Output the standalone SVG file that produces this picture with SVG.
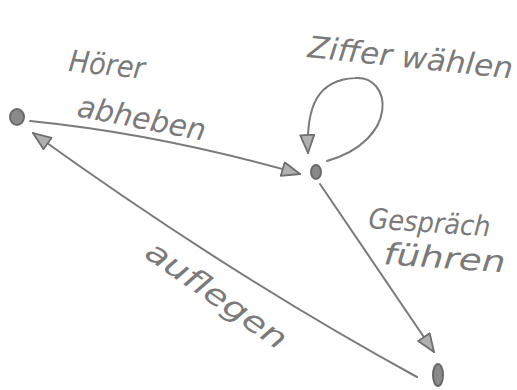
<svg xmlns="http://www.w3.org/2000/svg" width="517" height="390" viewBox="0 0 517 390">
<style>
.e{fill:none;stroke:#7a7a7a;stroke-width:2;stroke-linecap:round}
.n{fill:#8a8a8a;stroke:#6a6a6a;stroke-width:2}
.t{font-family:"DejaVu Sans",sans-serif;font-style:italic;fill:#7a7a7a;font-size:30px}
</style>
<defs>
<marker id="ah" viewBox="0 0 20 16" refX="19" refY="8" markerWidth="20" markerHeight="16" markerUnits="userSpaceOnUse" orient="auto">
<path d="M1,1 L19,8 L1,15 Z" fill="#b0b0b0" stroke="#6e6e6e" stroke-width="1.8" stroke-linejoin="round"/>
</marker>
</defs>
<rect width="517" height="390" fill="#fff"/>
<g id="connectors">
<path class="e" d="M30,121 Q160,134 300,174" marker-end="url(#ah)"/>
<path class="e" d="M327,161 C400,140 392,75 355,78 C318,80 306,105 308,153" marker-end="url(#ah)"/>
<path class="e" d="M320,184 L434,352" marker-end="url(#ah)"/>
<path class="e" d="M417,377 Q230,275 33,133" marker-end="url(#ah)"/>
</g>
<g id="n1"><ellipse class="n" cx="17" cy="117" rx="7" ry="8"/></g>
<g id="n2"><ellipse class="n" cx="316" cy="172" rx="5" ry="7"/></g>
<g id="n3"><ellipse class="n" cx="438" cy="375" rx="5" ry="11"/></g>
<g id="labels">
<text class="t" x="68" y="71" textLength="76" lengthAdjust="spacingAndGlyphs" transform="rotate(6 68 71)">Hörer</text>
<text class="t" x="76" y="116" textLength="130" lengthAdjust="spacingAndGlyphs" transform="rotate(11 76 116)">abheben</text>
<text class="t" x="307" y="57" textLength="206" lengthAdjust="spacingAndGlyphs" transform="rotate(6 307 57)">Ziffer wählen</text>
<text class="t" x="368" y="228" textLength="122" lengthAdjust="spacingAndGlyphs" transform="rotate(4 368 228)" style="font-size:28px">Gespräch</text>
<text class="t" x="383" y="264" textLength="122" lengthAdjust="spacingAndGlyphs" transform="rotate(4 383 264)">führen</text>
<text class="t" x="143" y="256" textLength="165" lengthAdjust="spacingAndGlyphs" transform="rotate(35 143 256)">auflegen</text>
</g>
</svg>
